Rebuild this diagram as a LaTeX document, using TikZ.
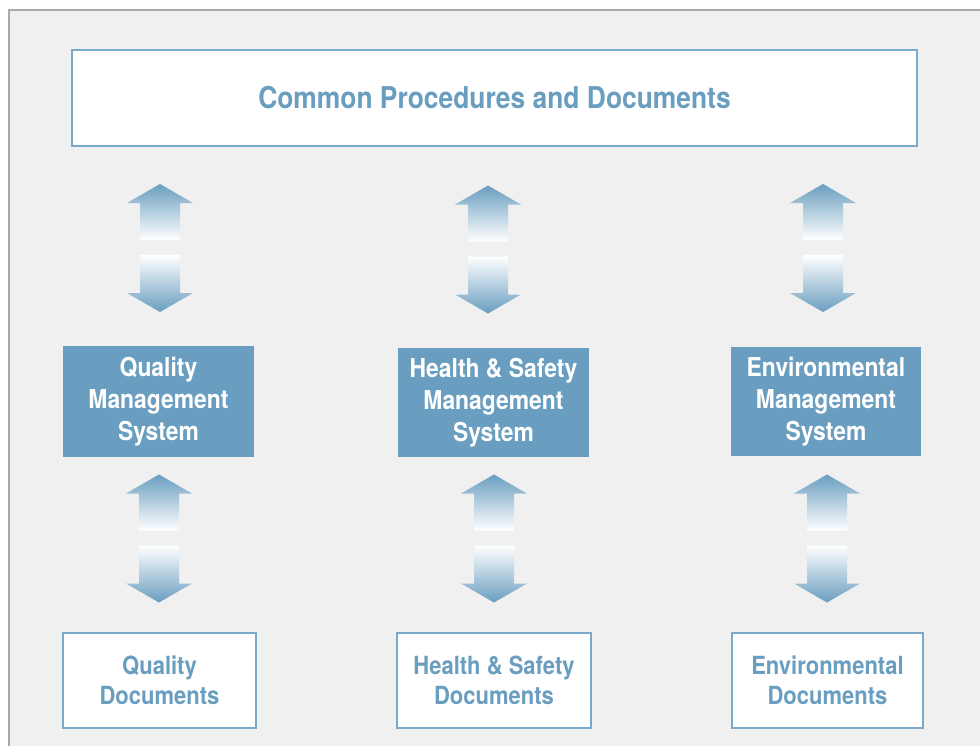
\documentclass[tikz,border=0pt]{standalone}
\usepackage{fontspec}
\newfontfamily\diagfont[FakeStretch=0.88]{TeX Gyre Heros}
\definecolor{mainblue}{HTML}{6A9EC1}
\definecolor{edgeblue}{HTML}{7AAACB}
\definecolor{arrowblue}{HTML}{6A9EC0}
\definecolor{bggray}{HTML}{F0F0F0}
\definecolor{framegray}{HTML}{A9A9A9}
\tikzset{
  solidbox/.style={fill=mainblue, draw=none, text=white, align=center,
    font=\diagfont\bfseries\fontsize{26}{32}\selectfont, inner sep=0pt},
  docbox/.style={fill=white, draw=edgeblue, line width=1.6pt, text=mainblue, align=center,
    font=\diagfont\bfseries\fontsize{25}{30}\selectfont, inner sep=0pt},
  titlebox/.style={fill=white, draw=edgeblue, line width=1.6pt, text=mainblue, align=center,
    font=\diagfont\bfseries\fontsize{30}{36}\selectfont, inner sep=0pt},
  dblarrow/.pic={
    \shade[top color=arrowblue, bottom color=white]
      (0,-64) -- (33,-45) -- (20,-45) -- (20,-8) -- (-20,-8) -- (-20,-45) -- (-33,-45) -- cycle;
    \shade[top color=white, bottom color=arrowblue]
      (0,64) -- (33,45) -- (20,45) -- (20,7) -- (-20,7) -- (-20,45) -- (-33,45) -- cycle;
  }
}
\begin{document}
\begin{tikzpicture}[x=1pt, y=-1pt]
\useasboundingbox (0,0) rectangle (980,745);
\fill[white] (0,0) rectangle (980,745);
\begin{scope}
  \clip (0,0) rectangle (980,745);
  \fill[bggray] (9,10) rectangle (995,760);
  \draw[framegray, line width=2pt] (9,760) -- (9,10) -- (995,10);
\end{scope}

\node[titlebox, minimum width=845pt, minimum height=96pt] (common) at (494.5,98) {Common Procedures and Documents};

\node[solidbox, minimum width=191pt, minimum height=111pt] (qms) at (158.5,401.5) {Quality\\Management\\System};
\node[solidbox, minimum width=191pt, minimum height=109pt] (hsms) at (493.5,402.5) {Health \& Safety\\Management\\System};
\node[solidbox, minimum width=190pt, minimum height=109pt] (ems) at (826,401.5) {Environmental\\Management\\System};

\node[docbox, minimum width=193pt, minimum height=95pt] (qd) at (159.5,680.5) {Quality\\Documents};
\node[docbox, minimum width=194pt, minimum height=95pt] (hsd) at (494,680.5) {Health \& Safety\\Documents};
\node[docbox, minimum width=191pt, minimum height=95pt] (ed) at (827.5,680.5) {Environmental\\Documents};

\pic at (160,248) {dblarrow};
\pic at (488,249.5) {dblarrow};
\pic at (823,248) {dblarrow};
\pic at (159,538.5) {dblarrow};
\pic at (494,538.5) {dblarrow};
\pic at (827,538.5) {dblarrow};
\end{tikzpicture}
\end{document}
